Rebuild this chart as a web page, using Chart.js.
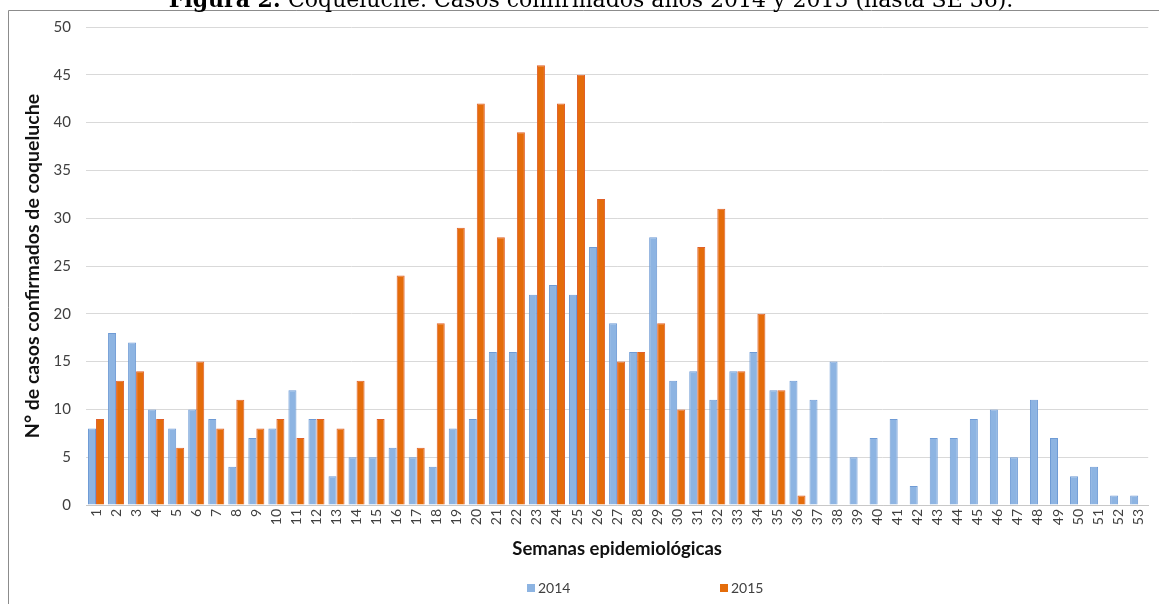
<!DOCTYPE html>
<html>
<head>
<meta charset="utf-8">
<script src="https://cdn.jsdelivr.net/npm/chart.js@4.4.1/dist/chart.umd.min.js"></script>
<style>
  html, body { margin: 0; padding: 0; background: #ffffff; overflow: hidden; }
  canvas { display: block; }
</style>
</head>
<body>
<canvas id="chart" width="1159" height="604"></canvas>
<script>
// ---- data ----
const weeks = ['1','2','3','4','5','6','7','8','9','10','11','12','13','14','15','16','17','18','19','20',
  '21','22','23','24','25','26','27','28','29','30','31','32','33','34','35','36','37','38','39','40',
  '41','42','43','44','45','46','47','48','49','50','51','52','53'];
const cases2014 = [8,18,17,10,8,10,9,4,7,8,12,9,3,5,5,6,5,4,8,9,
  16,16,22,23,22,27,19,16,28,13,14,11,14,16,12,13,11,15,5,7,
  9,2,7,7,9,10,5,11,7,3,4,1,1];
const cases2015 = [9,13,14,9,6,15,8,11,8,9,7,9,8,13,9,24,6,19,29,42,
  28,39,46,42,45,32,15,16,19,10,27,31,14,20,12,1,null,null,null,null,
  null,null,null,null,null,null,null,null,null,null,null,null,null];
const seriesNames = ['2014', '2015'];
const titleBold = 'Figura 2:';
const titleRest = ' Coqueluche. Casos confirmados años 2014 y 2015 (hasta SE 36).';
const yAxisTitle = 'N° de casos confirmados de coqueluche';
const xAxisTitle = 'Semanas epidemiológicas';
const yMin = 0, yMax = 50, yStep = 5;

const blue = '#8DB4E2', blueEdge = '#6F9BD5';
const orange = '#E46C0A', orangeEdge = '#E0602A';
const sansFont = 'Lato, "Open Sans", sans-serif';

// frame + title (drawn behind chart)
const framePlugin = {
  id: 'frameAndTitle',
  beforeDraw(chart) {
    const ctx = chart.ctx;
    ctx.save();
    ctx.fillStyle = '#ffffff';
    ctx.fillRect(0, 0, chart.width, chart.height);
    ctx.strokeStyle = '#8c8c8c';
    ctx.lineWidth = 1;
    ctx.beginPath();
    ctx.moveTo(8.5, chart.height);
    ctx.lineTo(8.5, 10.5);
    ctx.lineTo(chart.width, 10.5);
    ctx.stroke();
    // title (top part is cut off by the page edge, as in the reference)
    const size = 22;
    ctx.font = 'bold ' + size + 'px "DejaVu Serif", serif';
    const wb = ctx.measureText(titleBold).width;
    ctx.font = size + 'px "DejaVu Serif", serif';
    const wr = ctx.measureText(titleRest).width;
    const total = wb + wr;
    const x0 = 591 - total / 2;
    ctx.fillStyle = '#000000';
    ctx.textBaseline = 'alphabetic';
    ctx.textAlign = 'left';
    ctx.font = 'bold ' + size + 'px "DejaVu Serif", serif';
    ctx.fillText(titleBold, x0, 7);
    ctx.font = size + 'px "DejaVu Serif", serif';
    ctx.fillText(titleRest, x0 + wb, 7);
    ctx.restore();
  }
};

// legend drawn at the reference positions
const legendPlugin = {
  id: 'wideLegend',
  afterDraw(chart) {
    const ctx = chart.ctx;
    const xs = [527, 720];
    ctx.save();
    ctx.font = '14px ' + sansFont;
    ctx.textBaseline = 'middle';
    ctx.textAlign = 'left';
    chart.data.datasets.forEach((ds, i) => {
      ctx.fillStyle = ds.backgroundColor;
      ctx.fillRect(xs[i], 584, 8, 8);
      ctx.fillStyle = '#404040';
      ctx.fillText(ds.label, xs[i] + 11, 588.5);
    });
    ctx.restore();
  }
};

new Chart(document.getElementById('chart'), {
  type: 'bar',
  data: {
    labels: weeks,
    datasets: [
      { label: seriesNames[0], data: cases2014, backgroundColor: blue, borderColor: blueEdge, borderWidth: 1 },
      { label: seriesNames[1], data: cases2015, backgroundColor: orange, borderColor: orangeEdge, borderWidth: 1 }
    ]
  },
  options: {
    responsive: false,
    animation: false,
    layout: { padding: { left: 0, right: 3, top: 27, bottom: 44 } },
    datasets: { bar: { categoryPercentage: 0.8, barPercentage: 1.0 } },
    plugins: {
      legend: { display: false },
      title: { display: false },
      tooltip: { enabled: false }
    },
    scales: {
      x: {
        grid: { display: false, drawTicks: false },
        border: { display: true, color: '#c8c8c8', width: 1 },
        ticks: {
          autoSkip: false, maxRotation: 90, minRotation: 90, padding: 4,
          color: '#404040', font: { family: sansFont, size: 14 }
        },
        title: {
          display: true, text: xAxisTitle, color: '#111111',
          font: { family: sansFont, size: 18.5, weight: 'bold' },
          padding: { top: 0, bottom: 0 }
        },
        afterFit(scale) { scale.height = 55; }
      },
      y: {
        min: yMin, max: yMax,
        ticks: { stepSize: yStep, padding: 15, color: '#404040', font: { family: sansFont, size: 15 } },
        grid: { color: '#d9d9d9', lineWidth: 1, drawTicks: false },
        border: { display: false },
        title: {
          display: true, text: yAxisTitle, color: '#111111',
          font: { family: sansFont, size: 19.5, weight: 'bold' },
          padding: { top: 21, bottom: 0 }
        },
        afterFit(scale) { scale.width = 86; }
      }
    }
  },
  plugins: [framePlugin, legendPlugin]
});
</script>
</body>
</html>
